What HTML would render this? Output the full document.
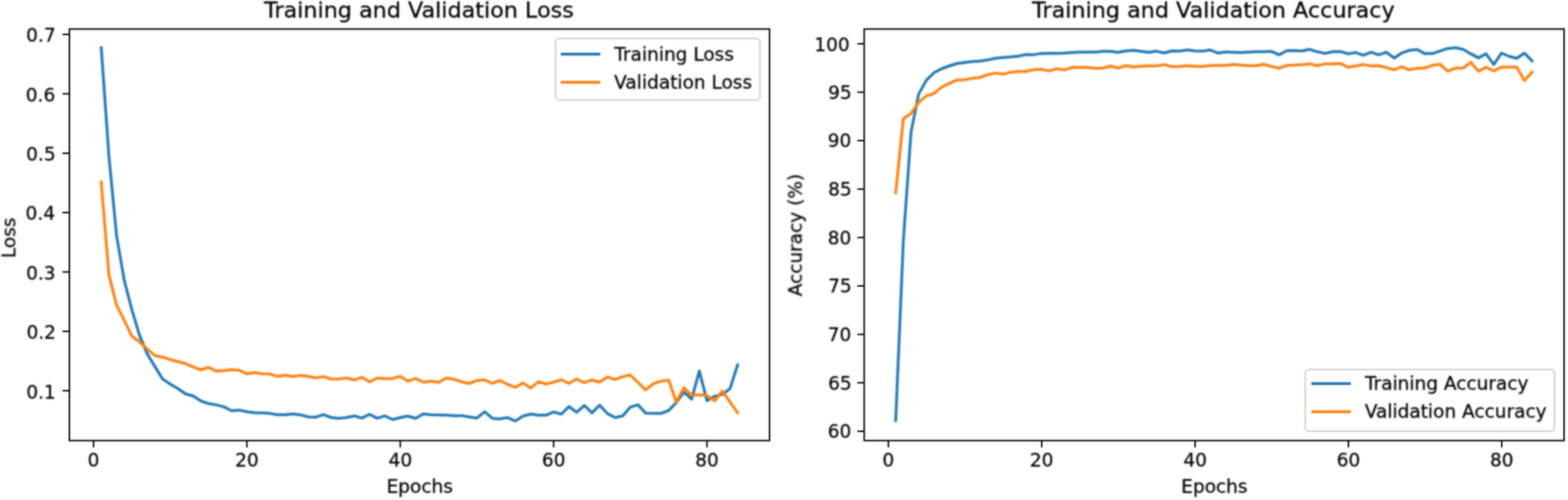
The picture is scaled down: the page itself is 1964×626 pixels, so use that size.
<!DOCTYPE html>
<html><head><meta charset="utf-8"><title>Training and Validation Loss / Accuracy</title>
<style>
html,body{margin:0;padding:0;background:#fff;}
body{width:1964px;height:626px;overflow:hidden;}
svg{display:block;}
svg text{font-family:"DejaVu Sans","Liberation Sans",sans-serif;fill:#000;stroke:#000;stroke-width:0.3;}
</style></head>
<body>
<svg width="1964" height="626" viewBox="0 0 1964 626">
<defs><filter id="soft" color-interpolation-filters="sRGB" x="0" y="0" width="1964" height="626" filterUnits="userSpaceOnUse"><feGaussianBlur in="SourceGraphic" stdDeviation="0.8" result="b"/><feComposite in="SourceGraphic" in2="b" operator="arithmetic" k1="0" k2="0.4" k3="0.6" k4="0"/></filter><filter id="softl" color-interpolation-filters="sRGB" x="0" y="0" width="1964" height="626" filterUnits="userSpaceOnUse"><feGaussianBlur in="SourceGraphic" stdDeviation="0.8" result="b"/><feComposite in="SourceGraphic" in2="b" operator="arithmetic" k1="0" k2="0.15" k3="0.85" k4="0"/></filter><filter id="softt" color-interpolation-filters="sRGB" x="0" y="0" width="1964" height="626" filterUnits="userSpaceOnUse"><feGaussianBlur in="SourceGraphic" stdDeviation="0.8" result="b"/><feComposite in="SourceGraphic" in2="b" operator="arithmetic" k1="0" k2="0.15000000000000002" k3="0.85" k4="0"/></filter></defs>
<rect width="1964" height="626" fill="#fff"/>
<g filter="url(#softl)">
<clipPath id="clip86"><rect x="86.9" y="36.35" width="876.95" height="515.25"/></clipPath>
<g clip-path="url(#clip86)">
<polyline points="126.80,59.60 136.41,195.40 146.01,295.00 155.62,351.00 165.22,388.00 174.82,420.00 184.43,443.00 194.03,459.00 203.64,474.50 213.24,480.90 222.84,486.50 232.45,493.20 242.05,495.80 251.66,502.00 261.26,505.30 270.86,506.90 280.47,509.40 290.07,514.30 299.68,513.40 309.28,515.50 318.88,516.70 328.49,517.10 338.09,517.60 347.70,519.20 357.30,519.20 366.90,518.30 376.51,519.40 386.11,522.00 395.72,522.20 405.32,519.20 414.92,522.80 424.53,523.80 434.13,522.80 443.74,520.70 453.34,523.40 462.94,518.80 472.55,523.60 482.15,520.70 491.76,525.30 501.36,522.80 510.96,521.00 520.57,523.80 530.17,518.30 539.78,519.20 549.38,519.50 558.98,519.80 568.59,520.40 578.19,520.40 587.80,522.00 597.40,523.40 607.00,515.50 616.61,523.70 626.21,524.40 635.82,522.80 645.42,527.10 655.02,521.00 664.63,518.50 674.23,519.80 683.84,519.80 693.44,515.80 703.04,518.60 712.65,509.00 722.25,516.20 731.86,507.60 741.46,516.90 751.06,507.30 760.67,517.60 770.27,522.70 779.88,520.80 789.48,509.70 799.08,506.80 808.69,517.30 818.29,517.60 827.90,517.60 837.50,514.00 847.10,504.00 856.71,491.00 866.31,499.70 875.92,464.40 885.52,501.80 895.12,496.10 904.73,493.90 914.33,486.70 923.94,456.80" fill="none" stroke="#1f77b4" stroke-width="3.49" stroke-linejoin="round" stroke-linecap="square"/>
<polyline points="126.80,228.00 136.41,344.00 146.01,382.00 155.62,401.00 165.22,421.00 174.82,428.00 184.43,437.00 194.03,445.00 203.64,447.20 213.24,450.20 222.84,452.80 232.45,455.30 242.05,459.30 251.66,463.00 261.26,460.00 270.86,464.60 280.47,464.10 290.07,462.70 299.68,463.60 309.28,468.00 318.88,466.50 328.49,468.00 338.09,468.30 347.70,471.30 357.30,469.70 366.90,471.50 376.51,469.90 386.11,471.30 395.72,473.10 405.32,471.50 414.92,474.60 424.53,474.60 434.13,473.10 443.74,475.80 453.34,472.40 462.94,478.00 472.55,473.30 482.15,473.90 491.76,473.90 501.36,471.10 510.96,477.20 520.57,473.90 530.17,478.50 539.78,477.20 549.38,478.80 558.98,473.30 568.59,474.80 578.19,478.00 587.80,480.00 597.40,476.40 607.00,475.50 616.61,480.00 626.21,476.40 635.82,481.30 645.42,484.90 655.02,479.40 664.63,485.80 674.23,478.00 683.84,480.70 693.44,478.50 703.04,475.30 712.65,480.00 722.25,474.50 731.86,479.10 741.46,475.70 751.06,478.50 760.67,471.90 770.27,475.20 779.88,471.60 789.48,469.50 799.08,478.80 808.69,488.20 818.29,480.30 827.90,477.40 837.50,475.90 847.10,503.30 856.71,485.30 866.31,495.30 875.92,494.30 885.52,495.30 895.12,501.80 904.73,489.60 914.33,503.30 923.94,516.90" fill="none" stroke="#ff7f0e" stroke-width="3.49" stroke-linejoin="round" stroke-linecap="square"/>
</g>
<clipPath id="clip1082"><rect x="1082.45" y="36.35" width="876.6499999999999" height="515.25"/></clipPath>
<g clip-path="url(#clip1082)">
<polyline points="1121.90,526.60 1131.51,301.00 1141.11,165.50 1150.72,117.50 1160.32,100.50 1169.92,91.00 1179.53,86.00 1189.13,82.50 1198.74,79.50 1208.34,78.20 1217.94,77.10 1227.55,76.40 1237.15,75.10 1246.76,73.00 1256.36,72.00 1265.96,71.30 1275.57,70.20 1285.17,68.20 1294.78,68.40 1304.38,66.90 1313.98,66.70 1323.59,66.70 1333.19,66.40 1342.80,65.80 1352.40,65.30 1362.00,65.30 1371.61,65.30 1381.21,64.30 1390.82,64.30 1400.42,65.50 1410.02,63.80 1419.63,63.10 1429.23,64.30 1438.84,65.50 1448.44,64.10 1458.04,66.20 1467.65,63.80 1477.25,64.10 1486.86,62.50 1496.46,63.80 1506.06,64.10 1515.67,62.50 1525.27,66.40 1534.88,65.10 1544.48,65.50 1554.08,65.80 1563.69,65.30 1573.29,64.80 1582.90,64.80 1592.50,64.30 1602.10,68.60 1611.71,63.50 1621.31,63.30 1630.92,63.80 1640.52,61.80 1650.12,64.80 1659.73,66.90 1669.33,64.80 1678.94,64.50 1688.54,67.40 1698.14,65.80 1707.75,69.20 1717.35,65.30 1726.96,68.60 1736.56,65.30 1746.16,72.70 1755.77,66.30 1765.37,63.00 1774.98,62.00 1784.58,67.10 1794.18,67.10 1803.79,63.80 1813.39,60.70 1823.00,59.80 1832.60,61.80 1842.20,67.40 1851.81,72.40 1861.41,67.40 1871.02,80.80 1880.62,66.50 1890.22,70.50 1899.83,73.00 1909.43,66.50 1919.04,76.30" fill="none" stroke="#1f77b4" stroke-width="3.49" stroke-linejoin="round" stroke-linecap="square"/>
<polyline points="1121.90,241.40 1131.51,148.50 1141.11,142.00 1150.72,128.00 1160.32,120.00 1169.92,117.00 1179.53,109.00 1189.13,104.40 1198.74,100.20 1208.34,99.70 1217.94,98.10 1227.55,97.00 1237.15,93.50 1246.76,91.40 1256.36,92.90 1265.96,90.40 1275.57,89.40 1285.17,89.40 1294.78,87.30 1304.38,86.80 1313.98,88.90 1323.59,86.00 1333.19,87.60 1342.80,84.30 1352.40,84.50 1362.00,84.30 1371.61,85.60 1381.21,85.30 1390.82,82.70 1400.42,85.30 1410.02,82.20 1419.63,83.70 1429.23,82.90 1438.84,82.20 1448.44,82.50 1458.04,80.90 1467.65,83.50 1477.25,83.20 1486.86,82.20 1496.46,82.90 1506.06,83.20 1515.67,81.90 1525.27,81.90 1534.88,81.70 1544.48,80.70 1554.08,81.50 1563.69,82.20 1573.29,82.30 1582.90,80.50 1592.50,83.20 1602.10,85.30 1611.71,81.90 1621.31,81.50 1630.92,80.90 1640.52,79.90 1650.12,82.20 1659.73,79.90 1669.33,79.90 1678.94,79.40 1688.54,84.30 1698.14,82.50 1707.75,80.90 1717.35,82.50 1726.96,82.20 1736.56,84.60 1746.16,87.30 1755.77,83.60 1765.37,87.40 1774.98,85.50 1784.58,85.30 1794.18,81.70 1803.79,80.60 1813.39,89.20 1823.00,85.30 1832.60,85.30 1842.20,78.00 1851.81,89.20 1861.41,84.10 1871.02,88.80 1880.62,84.10 1890.22,84.10 1899.83,84.10 1909.43,100.90 1919.04,90.30" fill="none" stroke="#ff7f0e" stroke-width="3.49" stroke-linejoin="round" stroke-linecap="square"/>
</g>
</g>
<g filter="url(#soft)">
<rect x="696.0" y="48.1" width="255.89999999999998" height="77.19999999999999" rx="4.6" ry="4.6" fill="#ffffff" fill-opacity="0.8" stroke="#cccccc" stroke-opacity="0.8" stroke-width="2.3"/>
<line x1="704.1" y1="67.8" x2="750.2" y2="67.8" stroke="#1f77b4" stroke-width="3.49" stroke-linecap="square"/>
<line x1="704.1" y1="102.9" x2="750.2" y2="102.9" stroke="#ff7f0e" stroke-width="3.49" stroke-linecap="square"/>
<rect x="86.9" y="36.35" width="876.95" height="515.25" fill="none" stroke="#000" stroke-width="1.86" stroke-linejoin="miter"/>
<line x1="117.20" y1="551.6" x2="117.20" y2="560.2" stroke="#000" stroke-width="1.86"/>
<line x1="309.28" y1="551.6" x2="309.28" y2="560.2" stroke="#000" stroke-width="1.86"/>
<line x1="501.36" y1="551.6" x2="501.36" y2="560.2" stroke="#000" stroke-width="1.86"/>
<line x1="693.44" y1="551.6" x2="693.44" y2="560.2" stroke="#000" stroke-width="1.86"/>
<line x1="885.52" y1="551.6" x2="885.52" y2="560.2" stroke="#000" stroke-width="1.86"/>
<line x1="78.30000000000001" y1="43.10" x2="86.9" y2="43.10" stroke="#000" stroke-width="1.86"/>
<line x1="78.30000000000001" y1="117.45" x2="86.9" y2="117.45" stroke="#000" stroke-width="1.86"/>
<line x1="78.30000000000001" y1="191.80" x2="86.9" y2="191.80" stroke="#000" stroke-width="1.86"/>
<line x1="78.30000000000001" y1="266.15" x2="86.9" y2="266.15" stroke="#000" stroke-width="1.86"/>
<line x1="78.30000000000001" y1="340.50" x2="86.9" y2="340.50" stroke="#000" stroke-width="1.86"/>
<line x1="78.30000000000001" y1="414.85" x2="86.9" y2="414.85" stroke="#000" stroke-width="1.86"/>
<line x1="78.30000000000001" y1="489.20" x2="86.9" y2="489.20" stroke="#000" stroke-width="1.86"/>
<rect x="1634.9" y="462.6" width="312.1999999999998" height="77.29999999999995" rx="4.6" ry="4.6" fill="#ffffff" fill-opacity="0.8" stroke="#cccccc" stroke-opacity="0.8" stroke-width="2.3"/>
<line x1="1644.3" y1="480.2" x2="1690.3" y2="480.2" stroke="#1f77b4" stroke-width="3.49" stroke-linecap="square"/>
<line x1="1644.3" y1="515.4" x2="1690.3" y2="515.4" stroke="#ff7f0e" stroke-width="3.49" stroke-linecap="square"/>
<rect x="1082.45" y="36.35" width="876.6499999999999" height="515.25" fill="none" stroke="#000" stroke-width="1.86" stroke-linejoin="miter"/>
<line x1="1112.70" y1="551.6" x2="1112.70" y2="560.2" stroke="#000" stroke-width="1.86"/>
<line x1="1304.78" y1="551.6" x2="1304.78" y2="560.2" stroke="#000" stroke-width="1.86"/>
<line x1="1496.86" y1="551.6" x2="1496.86" y2="560.2" stroke="#000" stroke-width="1.86"/>
<line x1="1688.94" y1="551.6" x2="1688.94" y2="560.2" stroke="#000" stroke-width="1.86"/>
<line x1="1881.02" y1="551.6" x2="1881.02" y2="560.2" stroke="#000" stroke-width="1.86"/>
<line x1="1073.8500000000001" y1="54.80" x2="1082.45" y2="54.80" stroke="#000" stroke-width="1.86"/>
<line x1="1073.8500000000001" y1="115.44" x2="1082.45" y2="115.44" stroke="#000" stroke-width="1.86"/>
<line x1="1073.8500000000001" y1="176.07" x2="1082.45" y2="176.07" stroke="#000" stroke-width="1.86"/>
<line x1="1073.8500000000001" y1="236.71" x2="1082.45" y2="236.71" stroke="#000" stroke-width="1.86"/>
<line x1="1073.8500000000001" y1="297.35" x2="1082.45" y2="297.35" stroke="#000" stroke-width="1.86"/>
<line x1="1073.8500000000001" y1="357.99" x2="1082.45" y2="357.99" stroke="#000" stroke-width="1.86"/>
<line x1="1073.8500000000001" y1="418.63" x2="1082.45" y2="418.63" stroke="#000" stroke-width="1.86"/>
<line x1="1073.8500000000001" y1="479.26" x2="1082.45" y2="479.26" stroke="#000" stroke-width="1.86"/>
<line x1="1073.8500000000001" y1="539.90" x2="1082.45" y2="539.90" stroke="#000" stroke-width="1.86"/>
</g>
<g filter="url(#softt)">
<text x="769.57" y="76.20" font-size="23.2" text-anchor="start">Training Loss</text>
<text x="769.31" y="110.90" font-size="23.2" text-anchor="start">Validation Loss</text>
<text x="109.82" y="584.00" font-size="23.2" text-anchor="start">0</text>
<text x="294.44" y="584.00" font-size="23.2" text-anchor="start">20</text>
<text x="486.80" y="584.00" font-size="23.2" text-anchor="start">40</text>
<text x="678.64" y="584.00" font-size="23.2" text-anchor="start">60</text>
<text x="870.74" y="584.00" font-size="23.2" text-anchor="start">80</text>
<text x="32.78" y="52.40" font-size="23.2" text-anchor="start">0.7</text>
<text x="32.27" y="126.75" font-size="23.2" text-anchor="start">0.6</text>
<text x="32.83" y="201.10" font-size="23.2" text-anchor="start">0.5</text>
<text x="32.11" y="275.45" font-size="23.2" text-anchor="start">0.4</text>
<text x="32.67" y="349.80" font-size="23.2" text-anchor="start">0.3</text>
<text x="33.13" y="424.15" font-size="23.2" text-anchor="start">0.2</text>
<text x="32.95" y="498.50" font-size="23.2" text-anchor="start">0.1</text>
<text x="484.14" y="617.20" font-size="23.2" text-anchor="start">Epochs</text>
<text transform="translate(330.73,21.8) scale(1,0.95)" x="0" y="0" font-size="27.9">Training and Validation Loss</text>
<text transform="translate(19.1,297.2) rotate(-90)" x="-26.01" y="0" font-size="23.2">Loss</text>
<text x="1709.67" y="487.80" font-size="23.2" text-anchor="start">Training Accuracy</text>
<text x="1709.41" y="522.90" font-size="23.2" text-anchor="start">Validation Accuracy</text>
<text x="1105.32" y="584.00" font-size="23.2" text-anchor="start">0</text>
<text x="1289.94" y="584.00" font-size="23.2" text-anchor="start">20</text>
<text x="1482.30" y="584.00" font-size="23.2" text-anchor="start">40</text>
<text x="1674.14" y="584.00" font-size="23.2" text-anchor="start">60</text>
<text x="1866.24" y="584.00" font-size="23.2" text-anchor="start">80</text>
<text x="1020.12" y="64.10" font-size="23.2" text-anchor="start">100</text>
<text x="1037.36" y="123.84" font-size="23.2" text-anchor="start">95</text>
<text x="1036.87" y="184.47" font-size="23.2" text-anchor="start">90</text>
<text x="1037.36" y="245.11" font-size="23.2" text-anchor="start">85</text>
<text x="1036.87" y="305.75" font-size="23.2" text-anchor="start">80</text>
<text x="1037.36" y="366.39" font-size="23.2" text-anchor="start">75</text>
<text x="1036.87" y="427.03" font-size="23.2" text-anchor="start">70</text>
<text x="1037.36" y="487.66" font-size="23.2" text-anchor="start">65</text>
<text x="1036.87" y="548.30" font-size="23.2" text-anchor="start">60</text>
<text x="1479.54" y="617.20" font-size="23.2" text-anchor="start">Epochs</text>
<text transform="translate(1292.77,21.8) scale(1,0.95)" x="0" y="0" font-size="27.9">Training and Validation Accuracy</text>
<text transform="translate(1004.2,295.2) rotate(-90)" x="-75.82" y="0" font-size="23.2">Accuracy (%)</text>
</g>
</svg>
</body></html>
